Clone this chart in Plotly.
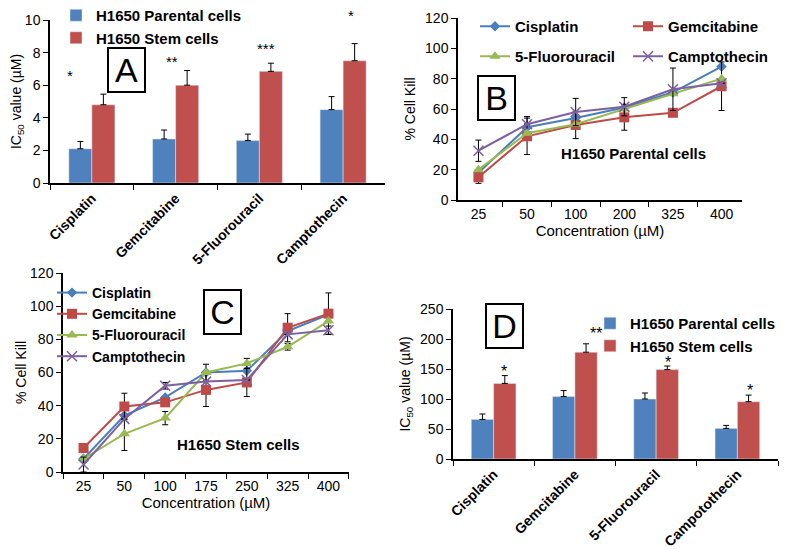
import plotly.graph_objects as go

FONT = "Liberation Sans, Arial, sans-serif"

# ---------------- data ----------------
drugs_a = ["Cisplatin", "Gemcitabine", "5-Fluorouracil", "Camptothecin"]
a_parental = [2.1, 2.7, 2.6, 4.5]
a_parental_err = [0.45, 0.55, 0.4, 0.8]
a_stem = [4.8, 6.0, 6.85, 7.5]
a_stem_err = [0.65, 0.9, 0.5, 1.05]
a_stars = ["*", "**", "***", "*"]

conc_b = ["25", "50", "100", "200", "325", "400"]
b_cis = [18, 48, 54, 61, 71, 88]
b_gem = [15, 42, 49.5, 54.5, 57.5, 75]
b_fu = [20, 44, 50, 60, 70, 80]
b_cam = [32.5, 50, 58, 61.5, 73, 77]
b_gem_err = [4, 12, 9, 8.5, None, 16]
b_cam_err = [7, None, 9, 6, 14, None]
b_cis_err = [None, 7, None, None, None, None]

conc_c = ["25", "50", "100", "175", "250", "325", "400"]
c_cis = [8, 34, 45, 60, 61, 85, 95]
c_gem = [14.5, 39.5, 42, 49.5, 54, 87, 95.5]
c_fu = [8, 23, 32.5, 60, 65.5, 75.5, 91]
c_cam = [4.5, 32, 52, 54.5, 55.5, 83, 85.5]
c_gem_err = [2.5, 8, None, 10, 8.5, 8.5, 12.5]
c_fu_err = [None, 10, 4, 5, 3, 2, None]
c_cam_err = [4.5, None, 2, None, None, None, 2.5]

drugs_d = ["Cisplatin", "Gemcitabine", "5-Fluorouracil", "Campotothecin"]
d_parental = [66, 104, 100, 51]
d_parental_err = [9, 10, 10, 5]
d_stem = [126, 178, 149, 95.5]
d_stem_err = [13, 14, 6, 11]
d_stars = ["*", "**", "*", "*"]

BLUE = "#4F81BD"
RED = "#C0504D"
L_BLUE = "#4A7EBB"
L_RED = "#BE4B48"
L_GREEN = "#98B954"
L_PURPLE = "#7D60A0"

fig = go.Figure()

def err(arr):
    return dict(type="data", array=arr, symmetric=True, color="black",
                thickness=1, width=3)

def up_err(arr):
    return dict(type="data", array=arr, arrayminus=[0] * len(arr), symmetric=False,
                color="black", thickness=1, width=3)

# ---------------- panel A ----------------
fig.add_trace(go.Bar(x=drugs_a, y=a_parental, name="H1650 Parental cells",
                     marker_color=BLUE, xaxis="x", yaxis="y", legend="legend",
                     error_y=up_err(a_parental_err)))
fig.add_trace(go.Bar(x=drugs_a, y=a_stem, name="H1650 Stem cells",
                     marker_color=RED, xaxis="x", yaxis="y", legend="legend",
                     error_y=up_err(a_stem_err)))

# ---------------- panels B / C ----------------
def line(xs, ys, name, color, symbol, errs, xa, ya, lg, msize=8):
    mk = dict(symbol=symbol, size=msize, color=color)
    if symbol == "x-thin":
        mk = dict(symbol=symbol, size=10, color=color, line=dict(color=color, width=1.5))
    tr = go.Scatter(x=xs, y=ys, name=name, mode="lines+markers",
                    line=dict(color=color, width=2), marker=mk,
                    xaxis=xa, yaxis=ya, legend=lg)
    if errs is not None:
        tr.error_y = err(errs)
    return tr

fig.add_trace(line(conc_b, b_cis, "Cisplatin", L_BLUE, "diamond", b_cis_err, "x2", "y2", "legend2"))
fig.add_trace(line(conc_b, b_gem, "Gemcitabine", L_RED, "square", b_gem_err, "x2", "y2", "legend2", 10))
fig.add_trace(line(conc_b, b_fu, "5-Fluorouracil", L_GREEN, "triangle-up", None, "x2", "y2", "legend3", 10))
fig.add_trace(line(conc_b, b_cam, "Camptothecin", L_PURPLE, "x-thin", b_cam_err, "x2", "y2", "legend3"))

fig.add_trace(line(conc_c, c_cis, "Cisplatin", L_BLUE, "diamond", None, "x3", "y3", "legend4"))
fig.add_trace(line(conc_c, c_gem, "Gemcitabine", L_RED, "square", c_gem_err, "x3", "y3", "legend4", 10))
fig.add_trace(line(conc_c, c_fu, "5-Fluorouracil", L_GREEN, "triangle-up", c_fu_err, "x3", "y3", "legend4", 10))
fig.add_trace(line(conc_c, c_cam, "Camptothecin", L_PURPLE, "x-thin", c_cam_err, "x3", "y3", "legend4"))

# ---------------- panel D ----------------
fig.add_trace(go.Bar(x=drugs_d, y=d_parental, name="H1650 Parental cells",
                     marker_color=BLUE, xaxis="x4", yaxis="y4", legend="legend5",
                     error_y=up_err(d_parental_err)))
fig.add_trace(go.Bar(x=drugs_d, y=d_stem, name="H1650 Stem cells",
                     marker_color=RED, xaxis="x4", yaxis="y4", legend="legend5",
                     error_y=up_err(d_stem_err)))

# page body has an 8px margin, so the figure is drawn 8px in from the corner
OFF = 8
W, H = 787 - OFF, 549 - OFF
def fx(p):
    return (p - OFF) / W
def fy(p):
    return 1 - (p - OFF) / H
def px(a, b):
    return [fx(a), fx(b)]
def py(top, bottom):
    return [fy(bottom), fy(top)]

tickf = dict(family=FONT, size=14, color="black")
ytitlef = dict(family=FONT, size=14, color="black")
xtitlef = dict(family=FONT, size=15, color="black")
catf = dict(family=FONT, size=14, color="black", weight="bold")

def xcat(domain, anchor, tickfont, angle=0, title=None):
    d = dict(domain=domain, anchor=anchor, type="category", showline=True,
             linecolor="black", linewidth=1.5, ticks="outside", tickson="boundaries",
             ticklen=5, tickcolor="black", tickfont=tickfont, tickangle=angle,
             showgrid=False, zeroline=False, automargin=False)
    if title:
        d["title"] = dict(text=title, font=xtitlef, standoff=0)
    return d

def yax(domain, anchor, rng, dtick, title, standoff=6):
    return dict(domain=domain, anchor=anchor, range=rng, dtick=dtick, showline=True,
                linecolor="black", linewidth=1.5, ticks="outside", ticklen=5,
                tickcolor="black", tickfont=tickf, showgrid=False, zeroline=False,
                automargin=False, title=dict(text=title, font=ytitlef, standoff=standoff))

legf = dict(family=FONT, size=15, color="black", weight="bold")

annotations = []
def box(letter, cx, cy, w=33, h=40):
    annotations.append(dict(text=letter, x=fx(cx), y=fy(cy), xref="paper", yref="paper",
                            showarrow=False, font=dict(family=FONT, size=34, color="black"),
                            bordercolor="black", borderwidth=2, width=w, height=h,
                            bgcolor="white", xanchor="center", yanchor="middle"))

box("A", 126.5, 70)
box("B", 496.5, 98)
box("C", 222.5, 311.5)
box("D", 504.5, 325.5)

# significance stars, anchored to the stem-cell bar tops
a_star_shift = [(-22, 19), (-4, 9), (7, 15), (8, 28)]
for i, s in enumerate(a_stars):
    annotations.append(dict(text=s, x=drugs_a[i], y=a_stem[i] + a_stem_err[i], xref="x", yref="y",
                            showarrow=False, xshift=a_star_shift[i][0], yshift=a_star_shift[i][1],
                            xanchor="center", yanchor="middle",
                            font=dict(family=FONT, size=15, color="black")))
d_star_shift = [(10, 4), (21, 10), (12, 4), (13, 5)]
for i, s in enumerate(d_stars):
    annotations.append(dict(text=s, x=drugs_d[i], y=d_stem[i] + d_stem_err[i], xref="x4", yref="y4",
                            showarrow=False, xshift=d_star_shift[i][0], yshift=d_star_shift[i][1],
                            xanchor="center", yanchor="middle",
                            font=dict(family=FONT, size=16, color="black")))

annotations.append(dict(text="<b>H1650 Parental cells</b>", x=fx(633), y=fy(153),
                        xref="paper", yref="paper", showarrow=False,
                        xanchor="center", yanchor="middle",
                        font=dict(family=FONT, size=15, color="black")))
annotations.append(dict(text="<b>H1650 Stem cells</b>", x=fx(238), y=fy(444),
                        xref="paper", yref="paper", showarrow=False,
                        xanchor="center", yanchor="middle",
                        font=dict(family=FONT, size=15, color="black")))

fig.update_layout(
    width=W, height=H, margin=dict(l=0, r=0, t=0, b=0, autoexpand=False),
    paper_bgcolor="white", plot_bgcolor="white",
    font=dict(family=FONT, color="black"),
    barmode="group", bargap=0.45, bargroupgap=0,
    xaxis=xcat(px(50, 385), "y", catf, -45),
    yaxis=yax(py(20, 183), "x", [0, 10], 2, "IC<sub>50</sub> value (µM)"),
    xaxis2=xcat(px(458, 742), "y2", tickf, 0, "Concentration (µM)"),
    yaxis2=yax(py(18, 200), "x2", [0, 120], 20, "% Cell Kill"),
    xaxis3=xcat(px(63, 349), "y3", tickf, 0, "Concentration (µM)"),
    yaxis3=yax(py(273, 472), "x3", [0, 120], 20, "% Cell Kill", 0),
    xaxis4=xcat(px(453, 778), "y4", catf, -45),
    yaxis4=yax(py(309, 459), "x4", [0, 250], 50, "IC<sub>50</sub> value (µM)"),
    legend=dict(x=fx(56), y=fy(-1), xanchor="left", yanchor="top", font=legf,
                bgcolor="rgba(0,0,0,0)", tracegroupgap=0, itemwidth=30),
    legend2=dict(x=fx(475), y=fy(10), xanchor="left", yanchor="top", orientation="h",
                 font=legf, bgcolor="rgba(0,0,0,0)", entrywidth=108, itemwidth=30),
    legend3=dict(x=fx(475), y=fy(40), xanchor="left", yanchor="top", orientation="h",
                 font=legf, bgcolor="rgba(0,0,0,0)", entrywidth=108, itemwidth=30),
    legend4=dict(x=fx(52), y=fy(277), xanchor="left", yanchor="top",
                 font=dict(family=FONT, size=14, color="black", weight="bold"),
                 bgcolor="rgba(0,0,0,0)", tracegroupgap=0, itemwidth=30),
    legend5=dict(x=fx(590), y=fy(307), xanchor="left", yanchor="top", font=legf,
                 bgcolor="rgba(0,0,0,0)", tracegroupgap=0, itemwidth=30),
    annotations=annotations,
    showlegend=True,
)

fig.write_html("out.html")
